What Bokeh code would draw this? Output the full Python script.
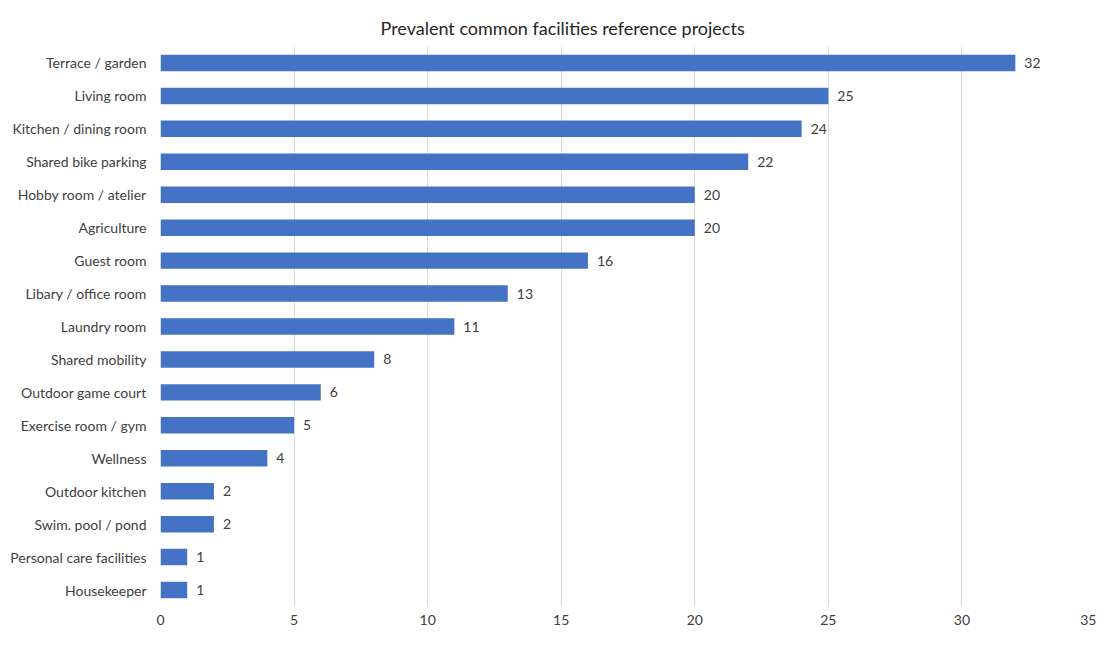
from bokeh.plotting import figure
from bokeh.models import ColumnDataSource, FactorRange, Range1d, FixedTicker, LabelSet
from bokeh.core.properties import value
from bokeh.embed import file_html
from bokeh.resources import INLINE

categories = ["Terrace / garden", "Living room", "Kitchen / dining room", "Shared bike parking",
              "Hobby room / atelier", "Agriculture", "Guest room", "Libary / office room",
              "Laundry room", "Shared mobility", "Outdoor game court", "Exercise room / gym",
              "Wellness", "Outdoor kitchen", "Swim. pool / pond", "Personal care facilities",
              "Housekeeper"]
values = [32, 25, 24, 22, 20, 20, 16, 13, 11, 8, 6, 5, 4, 2, 2, 1, 1]
x_ticks = [0, 5, 10, 15, 20, 25, 30, 35]

FONT = "Lato"
src = ColumnDataSource(dict(cat=categories, val=values, lab=[str(v) for v in values]))

p = figure(width=1096, height=632, output_backend="svg", toolbar_location=None,
           y_range=FactorRange(factors=list(reversed(categories)), range_padding=0),
           x_range=Range1d(0, 35),
           title="Prevalent common facilities reference projects",
           min_border_left=160, min_border_right=1, min_border_top=46, min_border_bottom=26)

p.hbar(y="cat", right="val", left=0, height=0.5, source=src, color="#4472C4", line_color=None)

labels = LabelSet(x="val", y="cat", text="lab", source=src, x_offset=9, y_offset=0,
                  text_baseline="middle", text_font=value(FONT), text_font_size="14px",
                  text_color="#404040")
p.add_layout(labels)

p.title.align = "left"
p.title.offset = 220
p.title.standoff = 16
p.title.text_font = FONT
p.title.text_font_size = "18px"
p.title.text_font_style = "normal"
p.title.text_color = "#262626"

p.outline_line_color = None
p.ygrid.grid_line_color = None
p.xgrid.grid_line_color = "#D9D9D9"
p.xgrid.ticker = FixedTicker(ticks=x_ticks)
p.xaxis.ticker = FixedTicker(ticks=x_ticks)

for ax in (p.xaxis[0], p.yaxis[0]):
    ax.axis_line_color = None
    ax.major_tick_line_color = None
    ax.minor_tick_line_color = None
    ax.major_tick_out = 0
    ax.major_tick_in = 0
    ax.major_label_text_font = FONT
    ax.major_label_text_font_size = "14px"
    ax.major_label_text_color = "#404040"

p.xaxis.major_label_standoff = 8
p.yaxis.major_label_standoff = 14

open("out.html", "w").write(file_html(p, INLINE))
